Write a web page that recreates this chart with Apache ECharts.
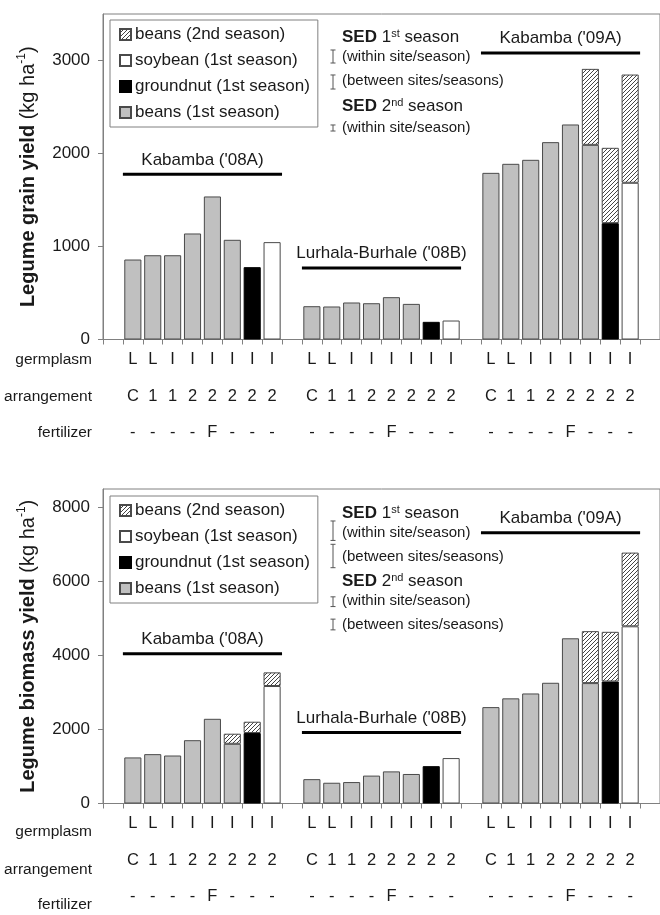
<!DOCTYPE html>
<html><head><meta charset="utf-8">
<script src="https://cdn.jsdelivr.net/npm/echarts@6/dist/echarts.min.js"></script>
<style>html,body{margin:0;padding:0;background:#fff}#c{width:660px;height:915px}</style>
</head><body><div id="c"></div>
<script>
// ---------------- data ----------------
const sites = ["Kabamba ('08A)", "Lurhala-Burhale ('08B)", "Kabamba ('09A)"];
const germplasm = ['L','L','I','I','I','I','I','I'];
const arrangement = ['C','1','1','2','2','2','2','2'];
const fertilizer = ['-','-','-','-','F','-','-','-'];
const rowTitles = ['germplasm','arrangement','fertilizer'];
const legendNames = ['beans (2nd season)','soybean (1st season)','groundnut (1st season)','beans (1st season)'];

// Legume grain yield (kg/ha): beans 1st season (treatments 1-6), groundnut (7), soybean (8), beans 2nd season (on 6,7,8)
const grainBeans1 = [[860,906,906,1140,1538,1072],[358,355,398,390,455,383],[1792,1889,1932,2122,2312,2093]];
const grainGroundnut = [778,190,1251];
const grainSoybean = [1047,204,1685];
const grainBeans2 = [[null,null,null],[null,null,null],[817,810,1164]];
const grainTicks = [0,1000,2000,3000];
const sedGrain = [140,151,65];

// Legume biomass yield (kg/ha)
const bioBeans1 = [[1245,1334,1297,1711,2289,1614],[658,561,579,754,868,798],[2605,2842,2974,3263,4465,3254]];
const bioGroundnut = [1904,1009,3298];
const bioSoybean = [3175,1228,4789];
const bioBeans2 = [[272,306,369],[null,null,null],[1404,1342,1992]];
const bioTicks = [0,2000,4000,6000,8000];
const sedBio = [526,632,263,290];

// ---------------- layout / style ----------------
const FONT = 'Liberation Sans, Arial, sans-serif';
const TXT = '#1a1a1a';
const AX = '#808080';
const nSlots = sites.length*9 + 1;
const layout = {
  top: {gridTop:14, gridH:325.5, max:3500, siteLineY:[1776,769,3080], rowY:[360,397,433],
        legendTop:20, sedX:333, sedRows:[56.5,82,128],
        sedText:[['{b|SED} 1{s|st} season',37,17],['(within site/season)',57,15],['(between sites/seasons)',81,15],['{b|SED} 2{s|nd} season',106,17],['(within site/season)',128,15]]},
  bot: {gridTop:489, gridH:324, max:8500, siteLineY:[4045,1921,7316], rowY:[832,870,905],
        legendTop:496, sedX:333, sedRows:[530.7,556,601.7,624.5],
        sedText:[['{b|SED} 1{s|st} season',513,17],['(within site/season)',533,15],['(between sites/seasons)',557,15],['{b|SED} 2{s|nd} season',581,17],['(within site/season)',601,15],['(between sites/seasons)',625,15]]}
};

function hatchPattern(){
  const s=4, c=document.createElement('canvas'); c.width=s; c.height=s;
  const g=c.getContext('2d'); g.fillStyle='#fff'; g.fillRect(0,0,s,s);
  g.strokeStyle='#444'; g.lineWidth=1;
  g.beginPath(); g.moveTo(0,s); g.lineTo(s,0); g.moveTo(-1,1); g.lineTo(1,-1); g.moveTo(s-1,s+1); g.lineTo(s+1,s-1); g.stroke();
  return {image:c, repeat:'repeat'};
}
const HATCH = hatchPattern();

const categories = [], catLabels = [];
for (let i=0;i<nSlots;i++){ categories.push('slot'+i); catLabels.push(''); }
sites.forEach((s,si)=>{ for(let t=0;t<8;t++){ const k=si*9+1+t; catLabels[k]=germplasm[t]+'\n'+arrangement[t]+'\n'+fertilizer[t]; } });

function buildStacks(b1, gn, sb, b2){
  const a=new Array(nSlots).fill('-'), g=a.slice(), s=a.slice(), h=a.slice();
  sites.forEach((_,si)=>{
    const base=si*9+1;
    b1[si].forEach((v,t)=>{ a[base+t]=v; });
    g[base+6]=gn[si]; s[base+7]=sb[si];
    b2[si].forEach((v,k)=>{ if(v!=null) h[base+5+k]=v; });
  });
  return {beans1:a, groundnut:g, soybean:s, beans2:h};
}

const option = {animation:false, textStyle:{fontFamily:FONT}, grid:[], xAxis:[], yAxis:[], series:[], legend:[], graphic:[]};

function addPanel(idx, L, stacks, yName, ticks, sed){
  option.grid.push({left:103, right:0, top:L.gridTop, height:L.gridH, show:true, borderColor:AX, borderWidth:1, containLabel:false});
  const xi = option.xAxis.length;
  option.xAxis.push({type:'category', gridIndex:idx, data:categories, boundaryGap:true,
    axisLine:{lineStyle:{color:AX}}, axisTick:{show:true, length:5, interval:0, lineStyle:{color:AX}},
    axisLabel:{interval:0, margin:2, fontSize:16.5, lineHeight:36.5, color:TXT, fontFamily:FONT, formatter:(v,i)=>catLabels[i]}});
  option.xAxis.push({type:'value', gridIndex:idx, min:0, max:nSlots, show:false});
  const yi = option.yAxis.length;
  option.yAxis.push({type:'value', gridIndex:idx, min:0, max:L.max, interval:ticks[1]-ticks[0],
    axisLine:{show:true, lineStyle:{color:AX}}, axisTick:{show:true, length:5, lineStyle:{color:AX}},
    splitLine:{show:false}, axisLabel:{fontSize:17, color:TXT, margin:13, showMaxLabel:false, fontFamily:FONT, formatter:v=>String(v)},
    name:yName, nameLocation:'middle', nameGap:63, nameRotate:90,
    nameTextStyle:{fontSize:20, color:TXT, fontFamily:FONT, lineHeight:24,
      rich:{b:{fontSize:20, fontWeight:'bold', color:TXT, fontFamily:FONT}, r:{fontSize:20, color:TXT, fontFamily:FONT}, s:{fontSize:12, color:TXT, fontFamily:FONT, verticalAlign:'top', lineHeight:24}}}});
  const common = {type:'bar', xAxisIndex:xi, yAxisIndex:yi, stack:'s'+idx, barCategoryGap:'14%'};
  option.series.push({...common, name:'beans (1st season)', data:stacks.beans1, itemStyle:{color:'#c0c0c0', borderColor:'#4a4a4a', borderWidth:1}});
  option.series.push({...common, name:'groundnut (1st season)', data:stacks.groundnut, itemStyle:{color:'#000', borderColor:'#000', borderWidth:1}});
  option.series.push({...common, name:'soybean (1st season)', data:stacks.soybean, itemStyle:{color:'#fff', borderColor:'#4a4a4a', borderWidth:1}});
  option.series.push({...common, name:'beans (2nd season)', data:stacks.beans2, itemStyle:{color:HATCH, borderColor:'#4a4a4a', borderWidth:1}});
  // site labels with bars
  option.series.push({type:'custom', xAxisIndex:xi+1, yAxisIndex:yi, clip:false, silent:true,
    data:sites.map((s,si)=>[si*9+1, si*9+9, L.siteLineY[si], si]),
    renderItem:(p,api)=>{
      const a=api.coord([api.value(0),api.value(2)]), b=api.coord([api.value(1),api.value(2)]);
      return {type:'group', children:[
        {type:'line', shape:{x1:a[0],y1:a[1],x2:b[0],y2:b[1]}, style:{stroke:'#000', lineWidth:3}},
        {type:'text', x:(a[0]+b[0])/2, y:a[1]-6, style:{text:sites[api.value(3)], fill:TXT, font:'17px '+FONT, align:'center', verticalAlign:'bottom'}}
      ]};
    }});
  // SED bars
  option.series.push({type:'custom', xAxisIndex:xi+1, yAxisIndex:yi, clip:false, silent:true,
    data:sed.map((v,i)=>[i, v]),
    renderItem:(p,api)=>{
      const h=api.size([0, api.value(1)])[1], y=L.sedRows[api.value(0)], x=L.sedX;
      return {type:'group', children:[
        {type:'line', shape:{x1:x,y1:y-h/2,x2:x,y2:y+h/2}, style:{stroke:'#555', lineWidth:1}},
        {type:'line', shape:{x1:x-2.5,y1:y-h/2,x2:x+2.5,y2:y-h/2}, style:{stroke:'#555', lineWidth:1}},
        {type:'line', shape:{x1:x-2.5,y1:y+h/2,x2:x+2.5,y2:y+h/2}, style:{stroke:'#555', lineWidth:1}}
      ]};
    }});
  option.legend.push({orient:'vertical', left:110, top:L.legendTop, data:legendNames, icon:'rect', itemWidth:11, itemHeight:11, itemGap:9,
    padding:[6,8,6,9], borderColor:AX, borderWidth:1, backgroundColor:'#fff', selectedMode:false,
    textStyle:{fontSize:17, color:TXT, fontFamily:FONT, lineHeight:17, padding:[0,0,0,-1]}});
  rowTitles.forEach((t,i)=>option.graphic.push({type:'text', x:92, y:L.rowY[i], silent:true,
    style:{text:t, fill:TXT, font:'15.5px '+FONT, align:'right', verticalAlign:'middle'}}));
  L.sedText.forEach(([t,y,fs])=>option.graphic.push({type:'text', x:342, y:y, silent:true,
    style:{text:t, fill:TXT, font:fs+'px '+FONT, verticalAlign:'middle',
      rich:{b:{fontWeight:'bold', fontSize:fs, fill:TXT, fontFamily:FONT}, s:{fontSize:11, fill:TXT, fontFamily:FONT, verticalAlign:'top', lineHeight:fs}}}}));
}

addPanel(0, layout.top, buildStacks(grainBeans1, grainGroundnut, grainSoybean, grainBeans2), '{b|Legume grain yield }{r|(kg ha}{s|-1}{r|)}', grainTicks, sedGrain);
addPanel(1, layout.bot, buildStacks(bioBeans1, bioGroundnut, bioSoybean, bioBeans2), '{b|Legume biomass yield }{r|(kg ha}{s|-1}{r|)}', bioTicks, sedBio);

const chart = echarts.init(document.getElementById('c'), null, {renderer:'canvas'});
chart.setOption(option);
</script></body></html>
